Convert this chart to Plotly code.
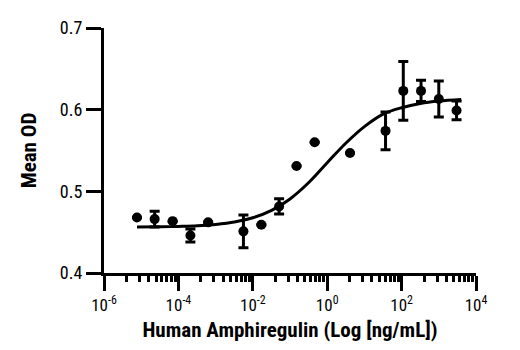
import plotly.graph_objects as go

# Data
conc = [7.7e-6, 2.3e-5, 7.0e-5, 2.1e-4, 6.3e-4, 5.6e-3, 0.017, 0.051,
        0.15, 0.46, 4.1, 37, 111, 333, 1000, 3000]
mean_od = [0.468, 0.466, 0.4635, 0.446, 0.462, 0.451, 0.459, 0.4815,
           0.531, 0.560, 0.547, 0.574, 0.623, 0.623, 0.613, 0.599]
err = [None, 0.0096, None, 0.008, None, 0.020, None, 0.0093,
       None, None, None, 0.023, 0.036, 0.013, 0.022, 0.0115]

# Fitted curve
curve_x = [7.7e-6, 3.2e-5, 1e-4, 3.2e-4, 1e-3, 3.2e-3, 0.01, 0.032, 0.1,
           0.32, 1, 3.2, 10, 32, 100, 320, 1000, 4000]
curve_y = [0.4562, 0.4565, 0.457, 0.4578, 0.4595, 0.4624, 0.4676, 0.4766,
           0.4907, 0.5108, 0.535, 0.5592, 0.5793, 0.5946, 0.6024, 0.6076,
           0.6105, 0.6124]

x_tickvals = [1e-6, 1e-4, 1e-2, 1, 1e2, 1e4]
x_ticktext = ["10<sup>-6</sup>", "10<sup>-4</sup>", "10<sup>-2</sup>",
              "10<sup>0</sup>", "10<sup>2</sup>", "10<sup>4</sup>"]
y_tickvals = [0.4, 0.5, 0.6, 0.7]
y_ticktext = ["0.4", "0.5", "0.6", "0.7"]

# minor tick positions (axis styling)
minor_vals = [base * k * k for base in x_tickvals[:-1] for k in range(2, 10)]

FONT = "Liberation Sans Narrow, Roboto Condensed, DejaVu Sans Condensed, Arial Narrow, sans-serif"

fig = go.Figure()
fig.add_trace(go.Scatter(
    x=curve_x, y=curve_y, mode="lines",
    line=dict(color="black", width=3, shape="spline"),
    hoverinfo="skip", showlegend=False))
fig.add_trace(go.Scatter(
    x=conc, y=mean_od, mode="markers",
    marker=dict(color="black", size=10),
    error_y=dict(type="data", array=err, visible=True, color="black",
                 thickness=3, width=5),
    showlegend=False))
# invisible trace to carry the minor-tick axis
fig.add_trace(go.Scatter(
    x=conc, y=mean_od, mode="markers", xaxis="x2",
    marker=dict(opacity=0), hoverinfo="skip", showlegend=False))

fig.update_layout(
    width=520, height=350,
    margin=dict(l=104, r=44, t=28, b=74),
    paper_bgcolor="white", plot_bgcolor="white",
    font=dict(family=FONT, color="black", size=17),
    showlegend=False,
    xaxis=dict(
        type="log", range=[-6, 4],
        tickmode="array", tickvals=x_tickvals, ticktext=x_ticktext,
        ticks="outside", ticklen=15, tickwidth=3, tickcolor="black",
        showline=True, linewidth=3, linecolor="black",
        showgrid=False, zeroline=False,
        tickfont=dict(size=17),
        title=dict(text="<b>Human Amphiregulin (Log [ng/mL])</b>",
                   font=dict(size=21), standoff=8),
    ),
    xaxis2=dict(
        type="log", range=[-6, 4], overlaying="x", side="bottom",
        anchor="y",
        tickmode="array", tickvals=minor_vals, showticklabels=False,
        ticks="outside", ticklen=8, tickwidth=3, tickcolor="black",
        showline=False, showgrid=False, zeroline=False,
    ),
    yaxis=dict(
        range=[0.4, 0.7],
        tickmode="array", tickvals=y_tickvals, ticktext=y_ticktext,
        ticks="outside", ticklen=15, tickwidth=3, tickcolor="black",
        showline=True, linewidth=3, linecolor="black",
        showgrid=False, zeroline=False,
        tickfont=dict(size=18),
        title=dict(text="<b>Mean OD</b>", font=dict(size=21), standoff=18),
    ),
)

fig.write_html("out.html")
